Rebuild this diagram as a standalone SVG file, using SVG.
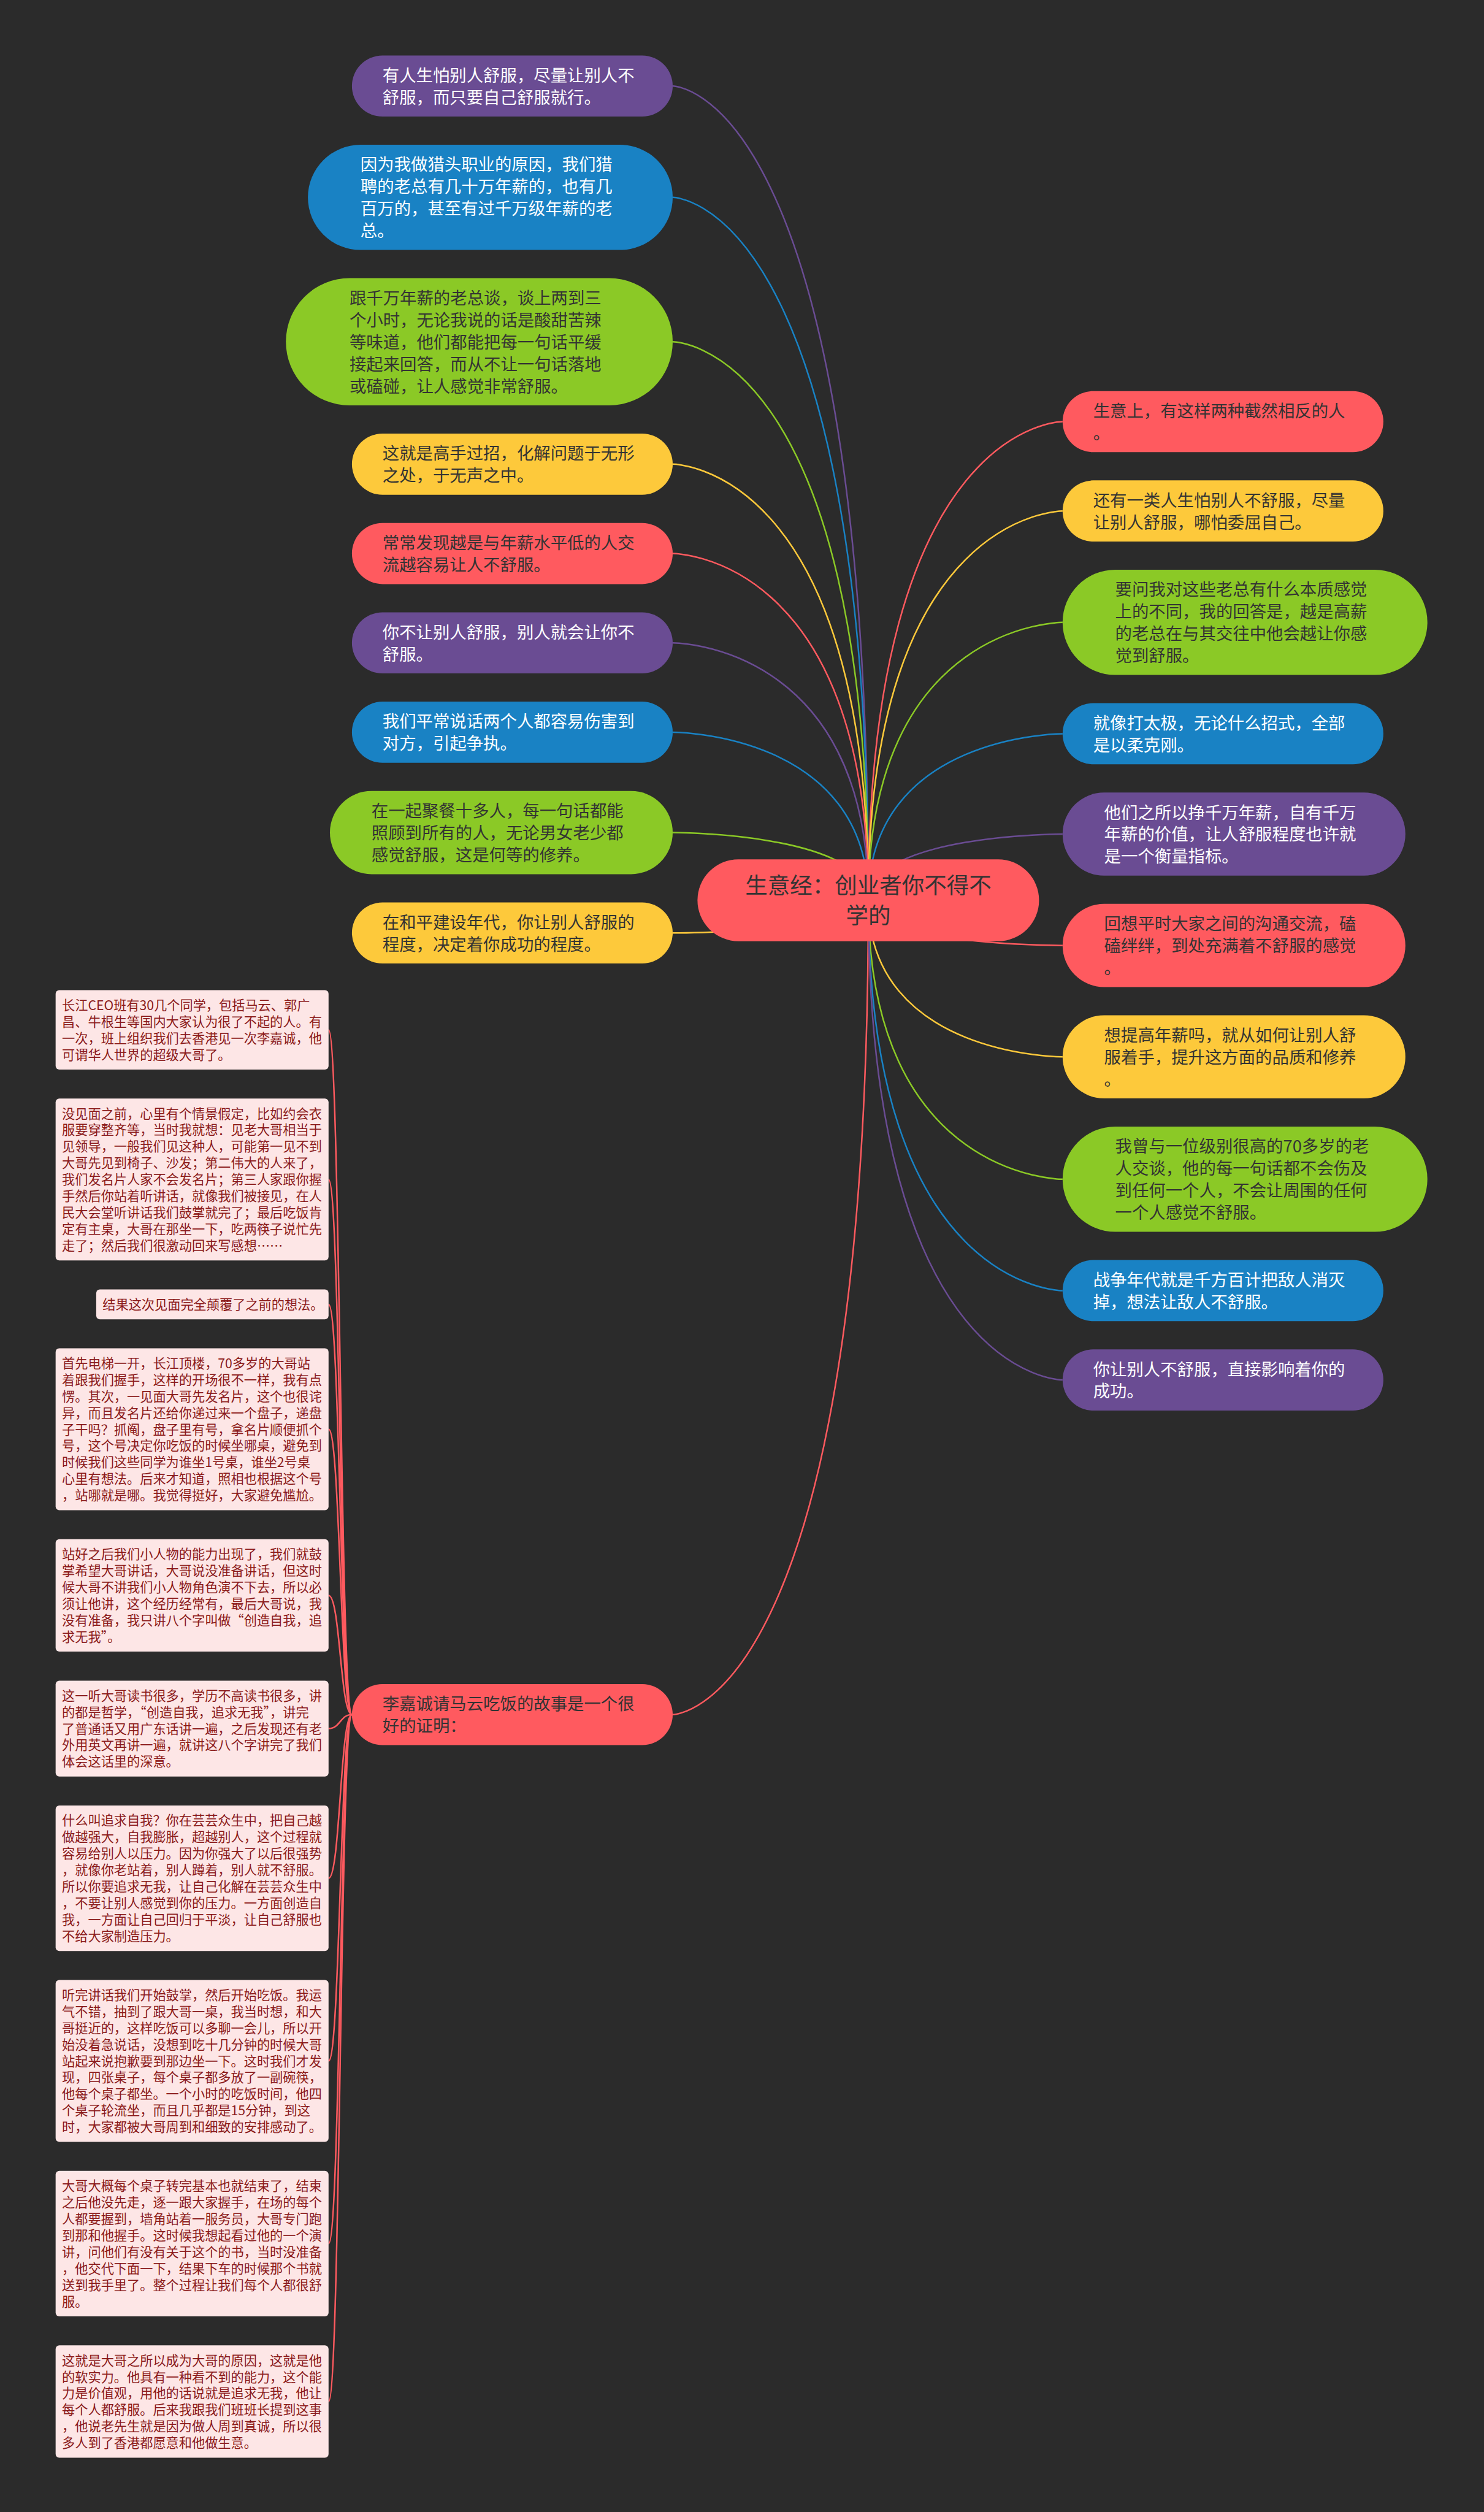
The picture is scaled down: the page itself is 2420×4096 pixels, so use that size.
<svg xmlns="http://www.w3.org/2000/svg" width="2420" height="4096" viewBox="0 0 2420 4096">
<style>
text{font-family:"Noto Sans CJK SC","Noto Sans",sans-serif}
.red{fill:#ff5a5f}.yel{fill:#fdc93b}.grn{fill:#8bc926}.blu{fill:#1982c4}.pur{fill:#6a4c93}
.t{font-size:27.4px}
.dk{fill:#333333}.lt{fill:#ffffff}
.root{font-size:36.5px;fill:#333333}
.pk{fill:#fde6e6}
.pt{font-size:21.2px;fill:#8b1a1a}
.c{fill:none;stroke-width:2.5}
.cr{stroke:#ff5a5f}.cy{stroke:#fdc93b}.cg{stroke:#8bc926}.cb{stroke:#1982c4}.cp{stroke:#6a4c93}
</style>
<rect x="0" y="0" width="2420" height="4096" fill="#2b2b2b"/>
<g id="connectors">
<path class="c cp" d="M1416 1468 C1416 140.25 1097 140.25 1097 140.25"/>
<path class="c cb" d="M1416 1468 C1416 321.85 1097 321.85 1097 321.85"/>
<path class="c cg" d="M1416 1468 C1416 557.3 1097 557.3 1097 557.3"/>
<path class="c cy" d="M1416 1468 C1416 756.85 1097 756.85 1097 756.85"/>
<path class="c cr" d="M1416 1468 C1416 902.55 1097 902.55 1097 902.55"/>
<path class="c cp" d="M1416 1468 C1416 1048.25 1097 1048.25 1097 1048.25"/>
<path class="c cb" d="M1416 1468 C1416 1193.95 1097 1193.95 1097 1193.95"/>
<path class="c cg" d="M1416 1468 C1416 1357.6 1097 1357.6 1097 1357.6"/>
<path class="c cy" d="M1416 1468 C1416 1521.25 1097 1521.25 1097 1521.25"/>
<path class="c cr" d="M1416 1468 C1416 2795.75 1097 2795.75 1097 2795.75"/>
<path class="c cr" d="M1416 1468 C1416 687.5 1732.8 687.5 1732.8 687.5"/>
<path class="c cy" d="M1416 1468 C1416 833.2 1732.8 833.2 1732.8 833.2"/>
<path class="c cg" d="M1416 1468 C1416 1014.8 1732.8 1014.8 1732.8 1014.8"/>
<path class="c cb" d="M1416 1468 C1416 1196.4 1732.8 1196.4 1732.8 1196.4"/>
<path class="c cp" d="M1416 1468 C1416 1360.05 1732.8 1360.05 1732.8 1360.05"/>
<path class="c cr" d="M1416 1468 C1416 1541.65 1732.8 1541.65 1732.8 1541.65"/>
<path class="c cy" d="M1416 1468 C1416 1723.25 1732.8 1723.25 1732.8 1723.25"/>
<path class="c cg" d="M1416 1468 C1416 1922.8 1732.8 1922.8 1732.8 1922.8"/>
<path class="c cb" d="M1416 1468 C1416 2104.4 1732.8 2104.4 1732.8 2104.4"/>
<path class="c cp" d="M1416 1468 C1416 2250.1 1732.8 2250.1 1732.8 2250.1"/>
<path class="c cr" d="M573.9 2795.75 C554.85 2795.75 554.85 1679.2 535.8 1679.2"/>
<path class="c cr" d="M573.9 2795.75 C554.85 2795.75 554.85 1923.25 535.8 1923.25"/>
<path class="c cr" d="M573.9 2795.75 C554.85 2795.75 554.85 2126.9 535.8 2126.9"/>
<path class="c cr" d="M573.9 2795.75 C554.85 2795.75 554.85 2330.55 535.8 2330.55"/>
<path class="c cr" d="M573.9 2795.75 C554.85 2795.75 554.85 2601.45 535.8 2601.45"/>
<path class="c cr" d="M573.9 2795.75 C554.85 2795.75 554.85 2818.6 535.8 2818.6"/>
<path class="c cr" d="M573.9 2795.75 C554.85 2795.75 554.85 3062.6 535.8 3062.6"/>
<path class="c cr" d="M573.9 2795.75 C554.85 2795.75 554.85 3360.55 535.8 3360.55"/>
<path class="c cr" d="M573.9 2795.75 C554.85 2795.75 554.85 3658.4 535.8 3658.4"/>
<path class="c cr" d="M573.9 2795.75 C554.85 2795.75 554.85 3915.95 535.8 3915.95"/>
</g>
<g id="root">
<rect class="red" x="1137.4" y="1401.2" width="557" height="133.5" rx="66.75"/>
<text class="root" text-anchor="middle" x="1415.9" y="1457.3">生意经：创业者你不得不<tspan x="1415.9" y="1506.4">学的</tspan></text>
</g>
<g id="L1">
<rect class="pur" x="573.9" y="90.4" width="523.1" height="99.7" rx="49.85"/>
<text class="t lt" x="623.75" y="132.7">有人生怕别人舒服，尽量让别人不<tspan x="623.75" dy="35.9">舒服，而只要自己舒服就行。</tspan></text>
</g>
<g id="L2">
<rect class="blu" x="502.1" y="236.1" width="594.9" height="171.5" rx="85.75"/>
<text class="t lt" x="587.85" y="278.4">因为我做猎头职业的原因，我们猎<tspan x="587.85" dy="35.9">聘的老总有几十万年薪的，也有几</tspan><tspan x="587.85" dy="35.9">百万的，甚至有过千万级年薪的老</tspan><tspan x="587.85" dy="35.9">总。</tspan></text>
</g>
<g id="L3">
<rect class="grn" x="466.2" y="453.6" width="630.8" height="207.4" rx="103.7"/>
<text class="t dk" x="569.9" y="495.9">跟千万年薪的老总谈，谈上两到三<tspan x="569.9" dy="35.9">个小时，无论我说的话是酸甜苦辣</tspan><tspan x="569.9" dy="35.9">等味道，他们都能把每一句话平缓</tspan><tspan x="569.9" dy="35.9">接起来回答，而从不让一句话落地</tspan><tspan x="569.9" dy="35.9">或磕碰，让人感觉非常舒服。</tspan></text>
</g>
<g id="L4">
<rect class="yel" x="573.9" y="707" width="523.1" height="99.7" rx="49.85"/>
<text class="t dk" x="623.75" y="749.3">这就是高手过招，化解问题于无形<tspan x="623.75" dy="35.9">之处，于无声之中。</tspan></text>
</g>
<g id="L5">
<rect class="red" x="573.9" y="852.7" width="523.1" height="99.7" rx="49.85"/>
<text class="t dk" x="623.75" y="895">常常发现越是与年薪水平低的人交<tspan x="623.75" dy="35.9">流越容易让人不舒服。</tspan></text>
</g>
<g id="L6">
<rect class="pur" x="573.9" y="998.4" width="523.1" height="99.7" rx="49.85"/>
<text class="t lt" x="623.75" y="1040.7">你不让别人舒服，别人就会让你不<tspan x="623.75" dy="35.9">舒服。</tspan></text>
</g>
<g id="L7">
<rect class="blu" x="573.9" y="1144.1" width="523.1" height="99.7" rx="49.85"/>
<text class="t lt" x="623.75" y="1186.4">我们平常说话两个人都容易伤害到<tspan x="623.75" dy="35.9">对方，引起争执。</tspan></text>
</g>
<g id="L8">
<rect class="grn" x="538" y="1289.8" width="559" height="135.6" rx="67.8"/>
<text class="t dk" x="605.8" y="1332.1">在一起聚餐十多人，每一句话都能<tspan x="605.8" dy="35.9">照顾到所有的人，无论男女老少都</tspan><tspan x="605.8" dy="35.9">感觉舒服，这是何等的修养。</tspan></text>
</g>
<g id="L9">
<rect class="yel" x="573.9" y="1471.4" width="523.1" height="99.7" rx="49.85"/>
<text class="t dk" x="623.75" y="1513.7">在和平建设年代，你让别人舒服的<tspan x="623.75" dy="35.9">程度，决定着你成功的程度。</tspan></text>
</g>
<g id="L10">
<rect class="red" x="573.9" y="2745.9" width="523.1" height="99.7" rx="49.85"/>
<text class="t dk" x="623.75" y="2788.2">李嘉诚请马云吃饭的故事是一个很<tspan x="623.75" dy="35.9">好的证明：</tspan></text>
</g>
<g id="R1">
<rect class="red" x="1732.8" y="637.65" width="523.1" height="99.7" rx="49.85"/>
<text class="t dk" x="1782.65" y="679.95">生意上，有这样两种截然相反的人<tspan x="1782.65" dy="35.9">。</tspan></text>
</g>
<g id="R2">
<rect class="yel" x="1732.8" y="783.35" width="523.1" height="99.7" rx="49.85"/>
<text class="t dk" x="1782.65" y="825.65">还有一类人生怕别人不舒服，尽量<tspan x="1782.65" dy="35.9">让别人舒服，哪怕委屈自己。</tspan></text>
</g>
<g id="R3">
<rect class="grn" x="1732.8" y="929.05" width="594.9" height="171.5" rx="85.75"/>
<text class="t dk" x="1818.55" y="971.35">要问我对这些老总有什么本质感觉<tspan x="1818.55" dy="35.9">上的不同，我的回答是，越是高薪</tspan><tspan x="1818.55" dy="35.9">的老总在与其交往中他会越让你感</tspan><tspan x="1818.55" dy="35.9">觉到舒服。</tspan></text>
</g>
<g id="R4">
<rect class="blu" x="1732.8" y="1146.55" width="523.1" height="99.7" rx="49.85"/>
<text class="t lt" x="1782.65" y="1188.85">就像打太极，无论什么招式，全部<tspan x="1782.65" dy="35.9">是以柔克刚。</tspan></text>
</g>
<g id="R5">
<rect class="pur" x="1732.8" y="1292.25" width="559" height="135.6" rx="67.8"/>
<text class="t lt" x="1800.6" y="1334.55">他们之所以挣千万年薪，自有千万<tspan x="1800.6" dy="35.9">年薪的价值，让人舒服程度也许就</tspan><tspan x="1800.6" dy="35.9">是一个衡量指标。</tspan></text>
</g>
<g id="R6">
<rect class="red" x="1732.8" y="1473.85" width="559" height="135.6" rx="67.8"/>
<text class="t dk" x="1800.6" y="1516.15">回想平时大家之间的沟通交流，磕<tspan x="1800.6" dy="35.9">磕绊绊，到处充满着不舒服的感觉</tspan><tspan x="1800.6" dy="35.9">。</tspan></text>
</g>
<g id="R7">
<rect class="yel" x="1732.8" y="1655.45" width="559" height="135.6" rx="67.8"/>
<text class="t dk" x="1800.6" y="1697.75">想提高年薪吗，就从如何让别人舒<tspan x="1800.6" dy="35.9">服着手，提升这方面的品质和修养</tspan><tspan x="1800.6" dy="35.9">。</tspan></text>
</g>
<g id="R8">
<rect class="grn" x="1732.8" y="1837.05" width="594.9" height="171.5" rx="85.75"/>
<text class="t dk" x="1818.55" y="1879.35">我曾与一位级别很高的70多岁的老<tspan x="1818.55" dy="35.9">人交谈，他的每一句话都不会伤及</tspan><tspan x="1818.55" dy="35.9">到任何一个人，不会让周围的任何</tspan><tspan x="1818.55" dy="35.9">一个人感觉不舒服。</tspan></text>
</g>
<g id="R9">
<rect class="blu" x="1732.8" y="2054.55" width="523.1" height="99.7" rx="49.85"/>
<text class="t lt" x="1782.65" y="2096.85">战争年代就是千方百计把敌人消灭<tspan x="1782.65" dy="35.9">掉，想法让敌人不舒服。</tspan></text>
</g>
<g id="R10">
<rect class="pur" x="1732.8" y="2200.25" width="523.1" height="99.7" rx="49.85"/>
<text class="t lt" x="1782.65" y="2242.55">你让别人不舒服，直接影响着你的<tspan x="1782.65" dy="35.9">成功。</tspan></text>
</g>
<g id="P1">
<rect class="pk" x="90.7" y="1614.5" width="445.1" height="129.5" rx="6"/>
<text class="pt" x="101.1" y="1646.8">长江CEO班有30几个同学，包括马云、郭广<tspan x="101.1" dy="26.93">昌、牛根生等国内大家认为很了不起的人。有</tspan><tspan x="101.1" dy="26.93">一次，班上组织我们去香港见一次李嘉诚，他</tspan><tspan x="101.1" dy="26.93">可谓华人世界的超级大哥了。</tspan></text>
</g>
<g id="P2">
<rect class="pk" x="90.7" y="1791.2" width="445.1" height="264.1" rx="6"/>
<text class="pt" x="101.1" y="1823.5">没见面之前，心里有个情景假定，比如约会衣<tspan x="101.1" dy="26.93">服要穿整齐等，当时我就想：见老大哥相当于</tspan><tspan x="101.1" dy="26.93">见领导，一般我们见这种人，可能第一见不到</tspan><tspan x="101.1" dy="26.93">大哥先见到椅子、沙发；第二伟大的人来了，</tspan><tspan x="101.1" dy="26.93">我们发名片人家不会发名片；第三人家跟你握</tspan><tspan x="101.1" dy="26.93">手然后你站着听讲话，就像我们被接见，在人</tspan><tspan x="101.1" dy="26.93">民大会堂听讲话我们鼓掌就完了；最后吃饭肯</tspan><tspan x="101.1" dy="26.93">定有主桌，大哥在那坐一下，吃两筷子说忙先</tspan><tspan x="101.1" dy="26.93">走了；然后我们很激动回来写感想……</tspan></text>
</g>
<g id="P3">
<rect class="pk" x="156.9" y="2102.6" width="378.9" height="48.7" rx="6"/>
<text class="pt" x="167.3" y="2134.9">结果这次见面完全颠覆了之前的想法。</text>
</g>
<g id="P4">
<rect class="pk" x="90.7" y="2198.5" width="445.1" height="264.1" rx="6"/>
<text class="pt" x="101.1" y="2230.8">首先电梯一开，长江顶楼，70多岁的大哥站<tspan x="101.1" dy="26.93">着跟我们握手，这样的开场很不一样，我有点</tspan><tspan x="101.1" dy="26.93">愣。其次，一见面大哥先发名片，这个也很诧</tspan><tspan x="101.1" dy="26.93">异，而且发名片还给你递过来一个盘子，递盘</tspan><tspan x="101.1" dy="26.93">子干吗？抓阄，盘子里有号，拿名片顺便抓个</tspan><tspan x="101.1" dy="26.93">号，这个号决定你吃饭的时候坐哪桌，避免到</tspan><tspan x="101.1" dy="26.93">时候我们这些同学为谁坐1号桌，谁坐2号桌</tspan><tspan x="101.1" dy="26.93">心里有想法。后来才知道，照相也根据这个号</tspan><tspan x="101.1" dy="26.93">，站哪就是哪。我觉得挺好，大家避免尴尬。</tspan></text>
</g>
<g id="P5">
<rect class="pk" x="90.7" y="2509.8" width="445.1" height="183.3" rx="6"/>
<text class="pt" x="101.1" y="2542.1">站好之后我们小人物的能力出现了，我们就鼓<tspan x="101.1" dy="26.93">掌希望大哥讲话，大哥说没准备讲话，但这时</tspan><tspan x="101.1" dy="26.93">候大哥不讲我们小人物角色演不下去，所以必</tspan><tspan x="101.1" dy="26.93">须让他讲，这个经历经常有，最后大哥说，我</tspan><tspan x="101.1" dy="26.93">没有准备，我只讲八个字叫做“创造自我，追</tspan><tspan x="101.1" dy="26.93">求无我”。</tspan></text>
</g>
<g id="P6">
<rect class="pk" x="90.7" y="2740.4" width="445.1" height="156.4" rx="6"/>
<text class="pt" x="101.1" y="2772.7">这一听大哥读书很多，学历不高读书很多，讲<tspan x="101.1" dy="26.93">的都是哲学，“创造自我，追求无我”，讲完</tspan><tspan x="101.1" dy="26.93">了普通话又用广东话讲一遍，之后发现还有老</tspan><tspan x="101.1" dy="26.93">外用英文再讲一遍，就讲这八个字讲完了我们</tspan><tspan x="101.1" dy="26.93">体会这话里的深意。</tspan></text>
</g>
<g id="P7">
<rect class="pk" x="90.7" y="2944" width="445.1" height="237.2" rx="6"/>
<text class="pt" x="101.1" y="2976.3">什么叫追求自我？你在芸芸众生中，把自己越<tspan x="101.1" dy="26.93">做越强大，自我膨胀，超越别人，这个过程就</tspan><tspan x="101.1" dy="26.93">容易给别人以压力。因为你强大了以后很强势</tspan><tspan x="101.1" dy="26.93">，就像你老站着，别人蹲着，别人就不舒服。</tspan><tspan x="101.1" dy="26.93">所以你要追求无我，让自己化解在芸芸众生中</tspan><tspan x="101.1" dy="26.93">，不要让别人感觉到你的压力。一方面创造自</tspan><tspan x="101.1" dy="26.93">我，一方面让自己回归于平淡，让自己舒服也</tspan><tspan x="101.1" dy="26.93">不给大家制造压力。</tspan></text>
</g>
<g id="P8">
<rect class="pk" x="90.7" y="3228.5" width="445.1" height="264.1" rx="6"/>
<text class="pt" x="101.1" y="3260.8">听完讲话我们开始鼓掌，然后开始吃饭。我运<tspan x="101.1" dy="26.93">气不错，抽到了跟大哥一桌，我当时想，和大</tspan><tspan x="101.1" dy="26.93">哥挺近的，这样吃饭可以多聊一会儿，所以开</tspan><tspan x="101.1" dy="26.93">始没着急说话，没想到吃十几分钟的时候大哥</tspan><tspan x="101.1" dy="26.93">站起来说抱歉要到那边坐一下。这时我们才发</tspan><tspan x="101.1" dy="26.93">现，四张桌子，每个桌子都多放了一副碗筷，</tspan><tspan x="101.1" dy="26.93">他每个桌子都坐。一个小时的吃饭时间，他四</tspan><tspan x="101.1" dy="26.93">个桌子轮流坐，而且几乎都是15分钟，到这</tspan><tspan x="101.1" dy="26.93">时，大家都被大哥周到和细致的安排感动了。</tspan></text>
</g>
<g id="P9">
<rect class="pk" x="90.7" y="3539.8" width="445.1" height="237.2" rx="6"/>
<text class="pt" x="101.1" y="3572.1">大哥大概每个桌子转完基本也就结束了，结束<tspan x="101.1" dy="26.93">之后他没先走，逐一跟大家握手，在场的每个</tspan><tspan x="101.1" dy="26.93">人都要握到，墙角站着一服务员，大哥专门跑</tspan><tspan x="101.1" dy="26.93">到那和他握手。这时候我想起看过他的一个演</tspan><tspan x="101.1" dy="26.93">讲，问他们有没有关于这个的书，当时没准备</tspan><tspan x="101.1" dy="26.93">，他交代下面一下，结果下车的时候那个书就</tspan><tspan x="101.1" dy="26.93">送到我手里了。整个过程让我们每个人都很舒</tspan><tspan x="101.1" dy="26.93">服。</tspan></text>
</g>
<g id="P10">
<rect class="pk" x="90.7" y="3824.3" width="445.1" height="183.3" rx="6"/>
<text class="pt" x="101.1" y="3856.6">这就是大哥之所以成为大哥的原因，这就是他<tspan x="101.1" dy="26.93">的软实力。他具有一种看不到的能力，这个能</tspan><tspan x="101.1" dy="26.93">力是价值观，用他的话说就是追求无我，他让</tspan><tspan x="101.1" dy="26.93">每个人都舒服。后来我跟我们班班长提到这事</tspan><tspan x="101.1" dy="26.93">，他说老先生就是因为做人周到真诚，所以很</tspan><tspan x="101.1" dy="26.93">多人到了香港都愿意和他做生意。</tspan></text>
</g>
</svg>
